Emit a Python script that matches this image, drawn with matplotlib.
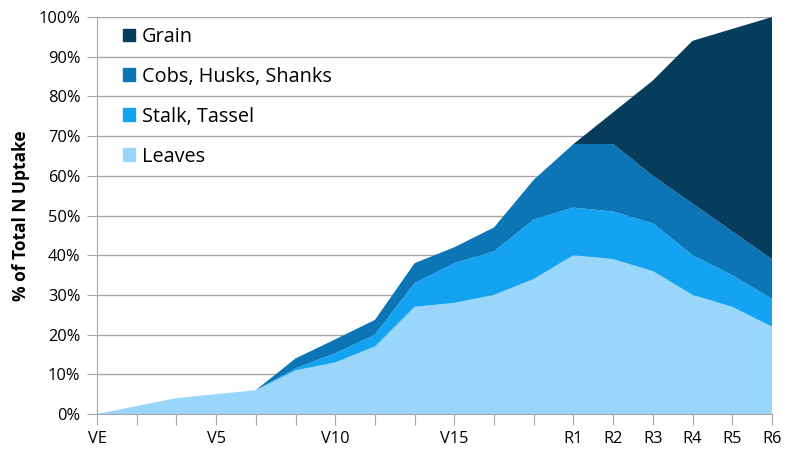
import matplotlib.pyplot as plt
from matplotlib.patches import Patch

plt.rcParams['font.family'] = ['Open Sans', 'DejaVu Sans']

# ==== Data ====
stages = ['VE', '', '', 'V5', '', '', 'V10', '', '', 'V15', '', '',
          'R1', 'R2', 'R3', 'R4', 'R5', 'R6']
leaves = [0, 2, 4, 5, 6, 11, 13, 17, 27, 28, 30, 34, 40, 39, 36, 30, 27, 22]
stalk = [0, 0, 0, 0, 0, 0.5, 2.3, 3, 6, 10, 11, 15, 12, 12, 12, 10, 8, 7]
cobs = [0, 0, 0, 0, 0, 2.5, 3.5, 3.7, 5, 4, 6, 10, 16, 17, 12, 13, 11, 10]
grain = [0, 0, 0, 0, 0, 0, 0, 0, 0, 0, 0, 0, 0, 8, 24, 41, 51, 61]
labels = ['Leaves', 'Stalk, Tassel', 'Cobs, Husks, Shanks', 'Grain']
colors = ['#99d6fa', '#14a3f0', '#0b75b5', '#063d5c']

# ==== Plot ====
fig = plt.figure(figsize=(7.97, 4.5), dpi=100)
ax = fig.add_axes([0.1217, 0.08, 0.8469, 0.8822])

x = range(len(stages))
ax.stackplot(x, leaves, stalk, cobs, grain, colors=colors, linewidth=0, zorder=2)

ax.set_xlim(0, len(stages) - 1)
ax.set_ylim(0, 100)
ax.set_yticks(range(0, 101, 10))
ax.set_yticklabels([f'{v}%' for v in range(0, 101, 10)])
ax.set_xticks(list(x))
ax.set_xticklabels(stages)

ax.grid(axis='y', color='#a6a6a6', linewidth=1, zorder=0)
ax.set_axisbelow(True)
for s in ['top', 'right']:
    ax.spines[s].set_visible(False)
for s in ['left', 'bottom']:
    ax.spines[s].set_color('#a6a6a6')
ax.tick_params(axis='both', colors='#a6a6a6', labelcolor='black', labelsize=11.8)
ax.tick_params(axis='x', length=8, pad=4)
ax.tick_params(axis='y', length=7, pad=5)

ax.set_ylabel('% of Total N Uptake', fontsize=12.5, fontweight='bold', labelpad=6)

handles = [Patch(color=c) for c in colors[::-1]]
ax.legend(handles, labels[::-1], loc='upper left', bbox_to_anchor=(0.012, 1.02),
          frameon=False, fontsize=14.3, handlelength=0.6, handleheight=0.6,
          handletextpad=0.35, labelspacing=1.0)

fig.savefig('out.png', dpi=100)
